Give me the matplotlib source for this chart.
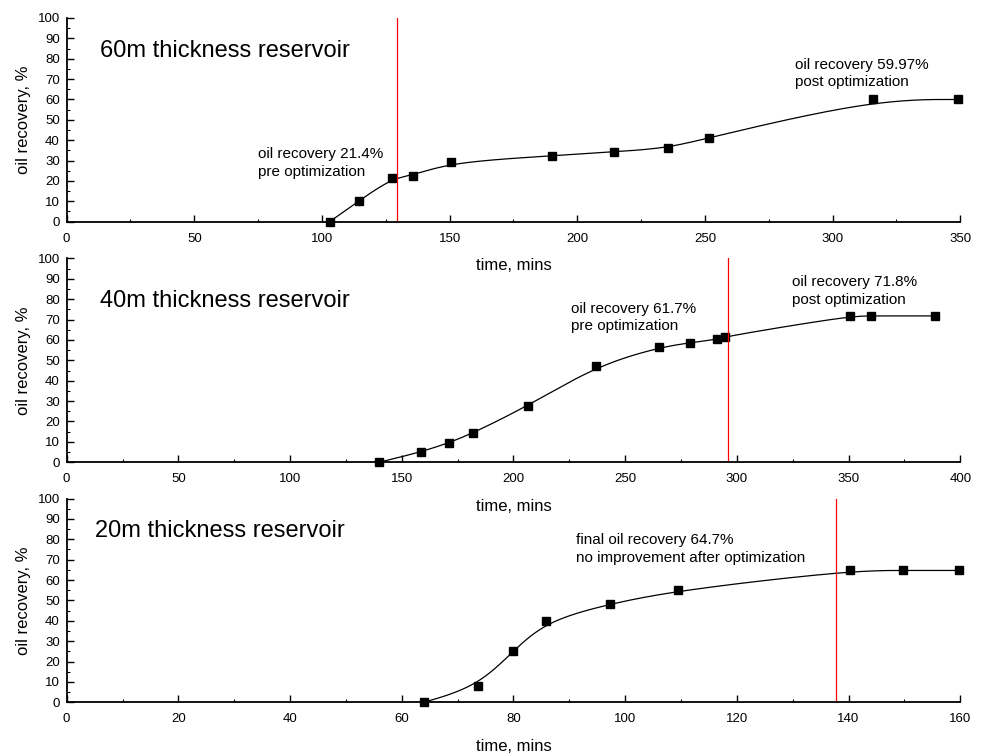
import numpy as np
import matplotlib.pyplot as plt
from matplotlib.ticker import MultipleLocator

plt.rcParams.update({
    'font.family': ['Liberation Sans', 'DejaVu Sans'],
    'xtick.labelsize': 9.5,
    'ytick.labelsize': 9.5,
    'axes.labelsize': 12,
})

# 60m reservoir
t60 = [103, 114.5, 127.5, 135.5, 150.5, 190, 214.5, 235.5, 251.7, 315.7, 349]
r60 = [0, 10.2, 21.4, 22.6, 29.2, 32.3, 34.3, 36.1, 41.3, 59.97, 59.97]
opt60 = 129.5

# 40m reservoir
t40 = [140, 158.6, 171.3, 181.7, 206.5, 237.1, 265.3, 279, 291.1, 294.7, 350.5, 360, 388.7]
r40 = [0, 5, 9.6, 14.2, 27.6, 47.4, 56.4, 58.6, 60.3, 61.7, 71.8, 71.8, 71.8]
opt40 = 296.2

# 20m reservoir
t20 = [64, 73.6, 80, 85.9, 97.2, 109.5, 140.3, 149.8, 159.7]
r20 = [0, 7.8, 25.3, 39.9, 48.3, 55, 64.7, 64.7, 64.7]
opt20 = 137.7


def bspline(x, y, n=60):
    # uniform cubic B-spline, data points as control points, ends pinned
    P = np.column_stack([x, y]).astype(float)
    P = np.vstack([P[0], P[0], P, P[-1], P[-1]])
    t = np.linspace(0, 1, n)[:, None]
    b0 = (1 - t)**3 / 6
    b1 = (3 * t**3 - 6 * t**2 + 4) / 6
    b2 = (-3 * t**3 + 3 * t**2 + 3 * t + 1) / 6
    b3 = t**3 / 6
    segs = [b0 * P[i] + b1 * P[i + 1] + b2 * P[i + 2] + b3 * P[i + 3]
            for i in range(len(P) - 3)]
    c = np.vstack(segs)
    return c[:, 0], c[:, 1]


panels = [
    dict(t=t60, r=r60, opt=opt60, xmax=350, major=50, minor=25,
         title='60m thickness reservoir', title_xy=(13, 84),
         notes=[((74.9, 28.9), 'oil recovery 21.4%\npre optimization'),
                ((285.3, 72.7), 'oil recovery 59.97%\npost optimization')]),
    dict(t=t40, r=r40, opt=opt40, xmax=400, major=50, minor=25,
         title='40m thickness reservoir', title_xy=(14.9, 79.2),
         notes=[((225.6, 71.0), 'oil recovery 61.7%\npre optimization'),
                ((324.8, 84.1), 'oil recovery 71.8%\npost optimization')]),
    dict(t=t20, r=r20, opt=opt20, xmax=160, major=20, minor=10,
         title='20m thickness reservoir', title_xy=(5.1, 84.1),
         notes=[((91.2, 75.2), 'final oil recovery 64.7%\nno improvement after optimization')]),
]

bottoms = [0.706, 0.387, 0.0686]

fig = plt.figure(figsize=(9.86, 7.54), dpi=100)
for p, b in zip(panels, bottoms):
    ax = fig.add_axes([0.0676, b, 0.9063, 0.2702])
    ax.patch.set_alpha(0)
    cx, cy = bspline(p['t'], p['r'])
    ax.plot(cx, cy, color='black', linewidth=0.9)
    ax.plot(p['t'], p['r'], 's', color='black', markersize=5.5, clip_on=False)
    ax.axvline(p['opt'], color='red', linewidth=0.9)

    ax.set_xlim(0, p['xmax'])
    ax.set_ylim(0, 100)
    ax.xaxis.set_major_locator(MultipleLocator(p['major']))
    ax.xaxis.set_minor_locator(MultipleLocator(p['minor']))
    ax.yaxis.set_major_locator(MultipleLocator(10))
    ax.yaxis.set_minor_locator(MultipleLocator(5))
    ax.tick_params(direction='in', which='major', length=5, width=1)
    ax.tick_params(direction='in', which='minor', length=2.5, width=0.8)
    ax.tick_params(axis='x', pad=8)
    ax.tick_params(axis='y', pad=5)
    for s in ['top', 'right']:
        ax.spines[s].set_visible(False)
    for s in ['left', 'bottom']:
        ax.spines[s].set_linewidth(1.3)

    ax.set_xlabel('time, mins')
    ax.set_ylabel('oil recovery, %')
    ax.xaxis.set_label_coords(0.5, -0.18)
    ax.yaxis.set_label_coords(-0.04, 0.5)

    ax.text(*p['title_xy'], p['title'], fontsize=17, va='center', ha='left')
    for xy, txt in p['notes']:
        ax.text(*xy, txt, fontsize=11, va='center', ha='left', linespacing=1.35)

plt.savefig('out.png', dpi=100)
